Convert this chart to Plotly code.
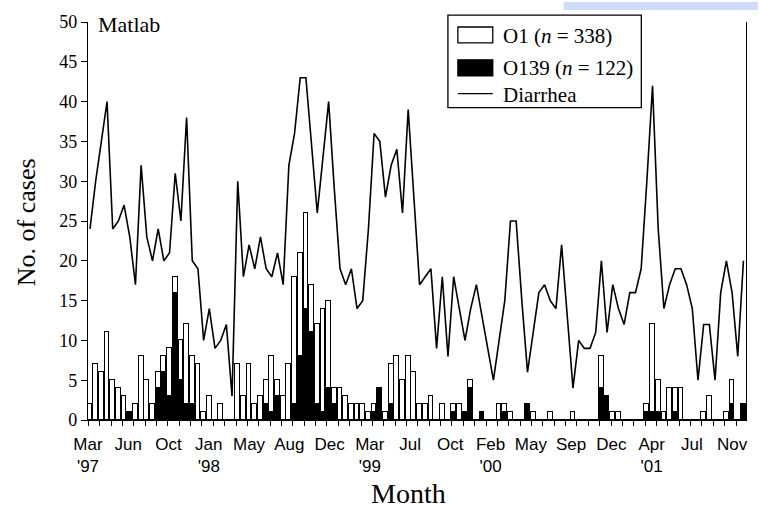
import plotly.graph_objects as go

# Semi-monthly periods starting March 1997
diarrhea = [24, 30, 35, 40, 24, 25, 27, 23, 17, 32,
            23, 20, 24, 20, 21, 31, 25, 38, 20, 19,
            10, 14, 9, 10, 12, 3, 30, 18, 22, 19,
            23, 19, 18, 21, 17, 32, 36, 43, 43, 35,
            26, 33, 40, 29, 19, 17, 19, 14, 15, 24,
            36, 35, 28, 32, 34, 26, 39, 28, 17, 18,
            19, 9, 18, 8, 18, 14, 10, 14, 17, 13,
            9, 5, 10, 15, 25, 25, 15, 6, 11, 16,
            17, 15, 14, 22, 13, 4, 10, 9, 9, 11,
            20, 11, 17, 14, 12, 16, 16, 19, 30, 42,
            24, 14, 17, 19, 19, 17, 14, 5, 12, 12,
            5, 16, 20, 16, 8, 20]

o1 = [2, 7, 6, 11, 5, 4, 3, 0, 2, 8,
      5, 2, 2, 2, 6, 2, 5, 10, 6, 7,
      1, 3, 0, 2, 0, 0, 7, 3, 7, 2,
      3, 3, 7, 2, 3, 7, 16, 13, 12, 6,
      10, 13, 11, 2, 4, 3, 2, 2, 2, 1,
      1, 0, 1, 5, 8, 5, 8, 6, 2, 2,
      3, 0, 2, 0, 1, 2, 0, 1, 0, 0,
      0, 0, 2, 1, 1, 0, 0, 0, 1, 0,
      0, 1, 0, 0, 0, 1, 0, 0, 0, 0,
      4, 0, 1, 1, 0, 0, 0, 0, 1, 11,
      4, 1, 4, 3, 4, 0, 0, 0, 1, 3,
      0, 0, 1, 3, 0, 0]

o139 = [0, 0, 0, 0, 0, 0, 0, 1, 0, 0,
        0, 0, 4, 6, 3, 16, 5, 2, 2, 0,
        0, 0, 0, 0, 0, 0, 0, 0, 0, 0,
        0, 2, 1, 3, 0, 0, 2, 8, 14, 11,
        2, 1, 4, 2, 0, 0, 0, 0, 0, 0,
        1, 4, 0, 2, 0, 0, 0, 0, 0, 0,
        0, 0, 0, 0, 1, 0, 1, 4, 0, 1,
        0, 0, 0, 1, 0, 0, 0, 2, 0, 0,
        0, 0, 0, 0, 0, 0, 0, 0, 0, 0,
        4, 3, 0, 0, 0, 0, 0, 0, 1, 1,
        1, 0, 0, 1, 0, 0, 0, 0, 0, 0,
        0, 0, 0, 2, 0, 2]

period = list(range(len(diarrhea)))

month_labels = ["Mar<br>'97", "Jun", "Oct", "Jan<br>'98", "May", "Aug", "Dec",
                "Mar<br>'99", "Jul", "Oct", "Feb<br>'00", "May", "Sep", "Dec",
                "Apr<br>'01", "Jul", "Nov"]
label_pos = [-0.35 + k * 7.085 for k in range(len(month_labels))]
month_ticks = [-0.3 + 2 * k for k in range(58)]
y_ticks = list(range(0, 51, 5))

SERIF = "Liberation Serif, Times New Roman, serif"
SANS = "Liberation Sans Narrow, Arial Narrow, Liberation Sans, Arial, sans-serif"

W, H = 760, 508
L, R, T, B = 88, 12, 20, 88
PW, PH = W - L - R, H - T - B


def px(x):
    return (x - L) / PW


def py(y):
    return (H - B - y) / PH


fig = go.Figure()
fig.add_trace(go.Bar(x=period, y=o139, width=0.84, showlegend=False,
                     marker=dict(color="black", line=dict(color="black", width=1))))
fig.add_trace(go.Bar(x=period, y=o1, width=0.84, showlegend=False,
                     marker=dict(color="white", line=dict(color="black", width=1.2))))
fig.add_trace(go.Scatter(x=period, y=diarrhea, mode="lines", showlegend=False,
                         line=dict(color="black", width=1.6)))

shapes = [
    dict(type="rect", xref="paper", yref="paper", x0=px(449), x1=px(643), y0=py(13), y1=py(106),
         line=dict(color="black", width=1.3), fillcolor="white", layer="above"),
    dict(type="rect", xref="paper", yref="paper", x0=px(459), x1=px(494), y0=py(25), y1=py(41),
         line=dict(color="black", width=1.3), fillcolor="white", layer="above"),
    dict(type="rect", xref="paper", yref="paper", x0=px(459), x1=px(494), y0=py(58), y1=py(74),
         line=dict(color="black", width=1.3), fillcolor="black", layer="above"),
    dict(type="line", xref="paper", yref="paper", x0=px(459), x1=px(494), y0=py(92), y1=py(92),
         line=dict(color="black", width=1.3), layer="above"),
    dict(type="rect", xref="paper", yref="paper", x0=px(565), x1=px(760), y0=py(8), y1=py(0),
         line=dict(width=0), fillcolor="#cfdcf7", layer="above"),
]

annotations = [
    dict(text="Matlab", xref="paper", yref="paper", x=px(96), y=py(23), xanchor="left",
         yanchor="middle", showarrow=False, font=dict(family=SERIF, size=22, color="black")),
    dict(text="No. of cases", xref="paper", yref="paper", x=px(27), y=py(221), textangle=-90,
         xanchor="center", yanchor="middle", showarrow=False,
         font=dict(family=SERIF, size=26, color="black")),
    dict(text="Month", xref="paper", yref="paper", x=px(409), y=py(494), xanchor="center",
         yanchor="middle", showarrow=False, font=dict(family=SERIF, size=28, color="black")),
    dict(text="O1 (<i>n</i> = 338)", xref="paper", yref="paper", x=px(502), y=py(34),
         xanchor="left", yanchor="middle", showarrow=False,
         font=dict(family=SERIF, size=21, color="black")),
    dict(text="O139 (<i>n</i> = 122)", xref="paper", yref="paper", x=px(502), y=py(66),
         xanchor="left", yanchor="middle", showarrow=False,
         font=dict(family=SERIF, size=21, color="black")),
    dict(text="Diarrhea", xref="paper", yref="paper", x=px(502), y=py(93),
         xanchor="left", yanchor="middle", showarrow=False,
         font=dict(family=SERIF, size=21, color="black")),
]

fig.update_layout(
    width=W, height=H,
    margin=dict(l=L, r=R, t=T, b=B, pad=0),
    paper_bgcolor="white", plot_bgcolor="white",
    barmode="stack", bargap=0,
    showlegend=False,
    shapes=shapes,
    annotations=annotations,
    xaxis=dict(range=[-0.35, 115.45], tickmode="array", tickvals=label_pos, ticktext=month_labels,
               ticks="", showgrid=False, zeroline=False, showline=True, linecolor="black",
               linewidth=1.3, ticklabelstandoff=8,
               tickfont=dict(family=SANS, size=17, color="black"),
               minor=dict(tickmode="array", tickvals=month_ticks, ticks="outside", ticklen=5,
                          tickcolor="black", tickwidth=1.2, showgrid=False)),
    yaxis=dict(range=[0, 50], tickmode="array", tickvals=y_ticks, ticks="outside", ticklen=6,
               tickcolor="black", tickwidth=1.3, showgrid=False, zeroline=False, showline=True,
               mirror=True, linecolor="black", linewidth=1.3,
               tickfont=dict(family=SERIF, size=18, color="black")),
)

fig.write_html("out.html")
